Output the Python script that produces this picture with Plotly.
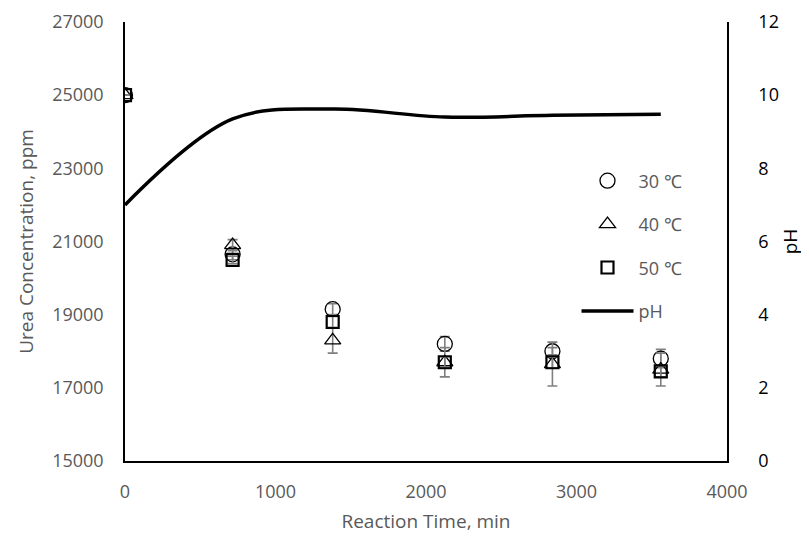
import plotly.graph_objects as go

times = [0, 715, 1380, 2125, 2840, 3560]
urea_30 = [25000, 20650, 19150, 18200, 18000, 17800]
err_30 = [0, 150, 150, 200, 100, 250]
urea_40 = [25000, 20900, 18300, 17700, 17650, 17500]
err_40 = [0, 150, 350, 400, 600, 450]
urea_50 = [25000, 20500, 18800, 17700, 17700, 17450]
err_50 = [0, 100, 150, 150, 150, 150]
ph_values = [7.0, 9.35, 9.62, 9.4, 9.45, 9.48]

left_ticks = [15000, 17000, 19000, 21000, 23000, 25000, 27000]
right_ticks = [0, 2, 4, 6, 8, 10, 12]
x_ticks = [0, 1000, 2000, 3000, 4000]

FONT = "Open Sans"
GRAY = "#595959"

fig = go.Figure()

def add_series(name, y, err, symbol, size, lw, grp):
    fig.add_trace(go.Scatter(
        x=times, y=y, name=name, mode="markers", legendgroup=grp,
        marker=dict(symbol=symbol, size=size, color="black",
                    line=dict(color="black", width=lw)),
        error_y=dict(type="data", array=err, visible=True, color="#808080",
                     thickness=1.6, width=5),
    ))

add_series("30 ℃", urea_30, err_30, "circle-open", 15, 1.3, "a")
add_series("40 ℃", urea_40, err_40, "triangle-up-open", 14, 1.3, "b")
add_series("50 ℃", urea_50, err_50, "square-open", 12, 2.2, "c")

fig.add_trace(go.Scatter(
    x=times, y=ph_values, name="pH", mode="lines", yaxis="y2", legendgroup="d",
    line=dict(color="black", width=3.5, shape="spline", smoothing=1.0),
))

fig.update_layout(
    width=801, height=536,
    margin=dict(l=117, r=82, t=14, b=83),
    plot_bgcolor="white", paper_bgcolor="white",
    font=dict(family=FONT, size=18, color=GRAY),
    xaxis=dict(range=[0, 4000], tickvals=x_ticks, showgrid=False, zeroline=False,
               showline=True, linecolor="black", linewidth=1.5, automargin=False,
               ticks="", tickfont=dict(size=18, color=GRAY), ticklabelstandoff=14,
               title=dict(text="Reaction Time, min", font=dict(size=19, color=GRAY), standoff=12)),
    yaxis=dict(range=[15000, 27000], tickvals=left_ticks, tickformat="d",
               showgrid=False, zeroline=False, automargin=False,
               showline=True, linecolor="black", linewidth=1.5,
               ticks="", tickfont=dict(size=18, color=GRAY), ticklabelstandoff=16,
               title=dict(text="Urea Concentration, ppm", font=dict(size=19, color=GRAY), standoff=14)),
    yaxis2=dict(range=[0, 12], tickvals=right_ticks, overlaying="y", side="right",
                showgrid=False, zeroline=False, showline=True, linecolor="black",
                linewidth=1.5, ticks="", automargin=False, ticklabelstandoff=26,
                tickfont=dict(size=18, color="black"),
                title=dict(text="pH", font=dict(size=19, color="black"), standoff=6)),
    legend=dict(x=0.75, y=0.68, xanchor="left", yanchor="top",
                bgcolor="rgba(0,0,0,0)", font=dict(size=18, color=GRAY),
                tracegroupgap=17, itemwidth=52),
    showlegend=True,
)

fig.write_html("out.html")
